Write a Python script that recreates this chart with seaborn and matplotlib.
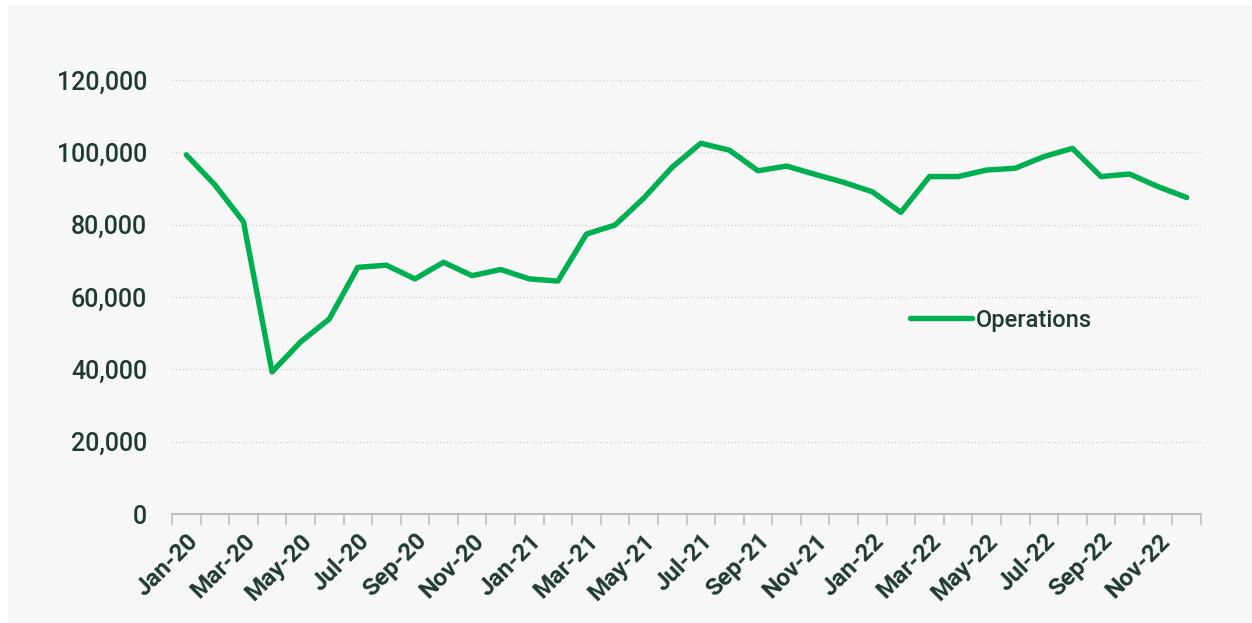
import pandas as pd
import seaborn as sns
import matplotlib.pyplot as plt
from matplotlib.patches import Rectangle
from matplotlib.ticker import FuncFormatter, FixedLocator

# monthly operations, Jan-20 .. Dec-22
months = pd.date_range('2020-01-01', '2022-12-01', freq='MS').strftime('%b-%y').tolist()
operations = [99300, 91000, 80800, 39300, 47600, 53900, 68200, 68800, 65000, 69600, 65900, 67600,
              65000, 64400, 77400, 79900, 87300, 95900, 102500, 100600, 94900, 96200, 93900, 91700,
              89100, 83400, 93300, 93300, 95100, 95600, 98800, 101100, 93300, 94000, 90500, 87500]
series_name = 'Operations'

df = pd.DataFrame({'month': months, 'pos': range(len(months)), 'value': operations})

sns.set_theme(style='white')
plt.rcParams['font.family'] = ['Roboto', 'DejaVu Sans']
text_color = '#1f3a33'
green = '#00b050'

fig = plt.figure(figsize=(12.52, 6.23), dpi=100, facecolor='white')
fig.patches.append(Rectangle((8 / 1252, 0), 1, 1 - 5 / 623, transform=fig.transFigure,
                             facecolor='#f7f7f7', edgecolor='none', zorder=-10))
ax = fig.add_axes([172 / 1252, 1 - 514 / 623, (1201 - 172) / 1252, (514 - 80) / 623])
ax.set_facecolor('none')

sns.lineplot(data=df, x='pos', y='value', ax=ax, color=green, linewidth=3.9,
             label=series_name, solid_capstyle='round', solid_joinstyle='round')

ax.set_xlim(-0.5, len(months) - 0.5)
ax.set_ylim(0, 120000)
ax.set_yticks(range(0, 120001, 20000))
ax.yaxis.set_major_formatter(FuncFormatter(lambda v, p: f'{int(v):,}'))
ax.grid(axis='y', color='#d4d4d4', linestyle=(0, (1, 1.5)), linewidth=1)
ax.set_axisbelow(True)

# category boundary ticks, labels every two months
ax.xaxis.set_major_locator(FixedLocator([i - 0.5 for i in range(len(months) + 1)]))
ax.set_xticklabels([])
ax.xaxis.set_minor_locator(FixedLocator(list(range(0, len(months), 2))))
ax.set_xticklabels(months[::2], minor=True, rotation=45, ha='right', rotation_mode='anchor',
                   fontsize=17.5, fontweight='bold', color=text_color)
ax.tick_params(axis='x', which='major', length=8, width=1.2, color='#bfbfbf', bottom=True)
ax.tick_params(axis='x', which='minor', length=0, pad=11)
ax.tick_params(axis='y', length=0, pad=18, labelsize=18, labelcolor=text_color)
for lab in ax.get_yticklabels():
    lab.set_fontweight('medium')

for side in ['top', 'right', 'left']:
    ax.spines[side].set_visible(False)
ax.spines['bottom'].set_color('#bfbfbf')
ax.spines['bottom'].set_linewidth(1.5)

ax.set_xlabel('')
ax.set_ylabel('')
leg = ax.legend(loc='center left', bbox_to_anchor=(0.697, 0.447), frameon=False,
                handlelength=2.6, handletextpad=0.15,
                prop={'size': 17, 'weight': 'medium'})
for t in leg.get_texts():
    t.set_color(text_color)

fig.savefig('out.png', dpi=100, facecolor=fig.get_facecolor())
